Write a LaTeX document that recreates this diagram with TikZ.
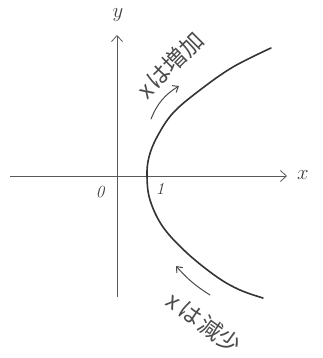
\documentclass[tikz,border=0pt]{standalone}
\usepackage{fontspec}
\newfontfamily\cjk{Noto Sans CJK JP}
\usetikzlibrary{arrows.meta}
\begin{document}
\begin{tikzpicture}[x=1pt,y=-1pt,
  axis/.style={draw=black!65, line width=0.8pt, -{Straight Barb[length=6pt,width=11pt]}},
  curve/.style={draw=black!80, line width=1.6pt, line cap=round},
  motion/.style={draw=black!70, line width=1pt, line cap=round, -{Straight Barb[length=5pt,width=8pt]}},
  lbl/.style={text=black!75, inner sep=0pt, font=\fontsize{22}{22}\selectfont},
  num/.style={text=black!75, inner sep=0pt, font=\fontsize{17}{17}\selectfont\itshape},
  note/.style={text=black!70, inner sep=0pt, font=\fontsize{23}{23}\selectfont}]
\fill[white] (0,0) rectangle (322,358);
\useasboundingbox (0,0) rectangle (322,358);
% axes
\coordinate (xs) at (10,176);
\coordinate (xe) at (287,176);
\coordinate (ys) at (117,297);
\coordinate (ye) at (117,35);
\draw[axis] (xs) -- (xe);
\draw[axis] (ys) -- (ye);
\node[lbl] (xl) at (303,175) {$x$};
\node[lbl] (yl) at (118,15) {$y$};
\node[num] (o) at (100,192) {0};
\node[num] (one) at (160,189) {1};
% curve
\draw[curve] plot[smooth, tension=0.6] coordinates {(271,48) (233,67) (200,90) (173,113) (157,137) (149,157) (147,176) (150,200) (163,227) (187,253) (217,277) (240,290) (263,298)};
% motion arrows
\coordinate (ua) at (151,119);
\coordinate (ub) at (179,86);
\coordinate (la) at (210,295);
\coordinate (lb) at (176,266);
\draw[motion] (ua) to[bend left=18] (ub);
\draw[motion] (la) to[bend left=8] (lb);
% notes
\node[note, rotate=45] (up) at (170,65) {\cjk x\hspace{2pt}は増加};
\node[note, rotate=-36] (down) at (204,323) {\cjk x\hspace{3pt}は\hspace{2pt}減少};
\end{tikzpicture}
\end{document}
